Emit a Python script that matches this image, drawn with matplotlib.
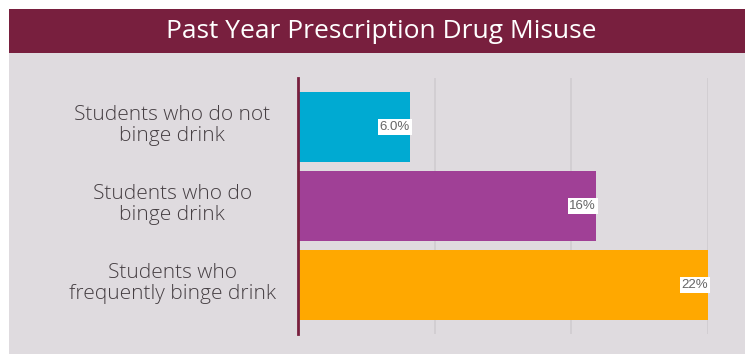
import matplotlib.pyplot as plt
from matplotlib.patches import Rectangle
from matplotlib.transforms import blended_transform_factory

categories = ['Students who do not\nbinge drink', 'Students who do\nbinge drink', 'Students who\nfrequently binge drink']
values = [6.0, 16, 22]
value_labels = ['6.0%', '16%', '22%']
bar_colors = ['#00AAD2', '#A04096', '#FFA800']

fig = plt.figure(figsize=(7.45, 3.54), dpi=100)
fig.patch.set_facecolor('white')

# title band and grey panel behind the chart
fig.add_artist(Rectangle((9 / 745, 301 / 354), 1, 44 / 354, transform=fig.transFigure,
                         facecolor='#781F3E', edgecolor='none', zorder=-10))
fig.add_artist(Rectangle((9 / 745, 0), 1, 301 / 354, transform=fig.transFigure,
                         facecolor='#DFDBDF', edgecolor='none', zorder=-10))
fig.text(381 / 745, 323 / 354, 'Past Year Prescription Drug Misuse', color='white',
         fontsize=19, family='Open Sans', fontweight='medium', ha='center', va='center')

ax = fig.add_axes([298 / 745, 20 / 354, 410 / 745, 256 / 354])
ax.set_facecolor('none')
ypos = list(range(len(categories)))
ax.barh(ypos, values, height=0.886, color=bar_colors, zorder=2)
ax.set_xlim(0, 22)
ax.set_ylim(2.62, -0.62)
ax.set_xticks([0, 22 / 3, 44 / 3, 22])
ax.grid(axis='x', color='#D0CCD0', linewidth=1.2, zorder=1)
ax.tick_params(length=0, labelbottom=False, labelleft=False)
ax.set_yticks(ypos)
for side in ['top', 'right', 'bottom']:
    ax.spines[side].set_visible(False)
ax.spines['left'].set_color('#781F3E')
ax.spines['left'].set_linewidth(2)
ax.spines['left'].set_zorder(3)

# category labels, centred in the space left of the axis
trans = blended_transform_factory(ax.transAxes, ax.transData)
for y, cat in zip(ypos, categories):
    ax.text(-0.307, y - 0.02, cat, transform=trans, fontsize=15, family='Open Sans',
            fontweight='light', color='#453E42', ha='center', va='center',
            linespacing=1.1, multialignment='center')

for y, v, lab in zip(ypos, values, value_labels):
    ax.text(v, y, lab, ha='right', va='center', fontsize=9.5, color='#666666',
            family='Liberation Sans', zorder=4,
            bbox=dict(facecolor='white', edgecolor='none', pad=1.2))

fig.savefig('out.png', dpi=100)
